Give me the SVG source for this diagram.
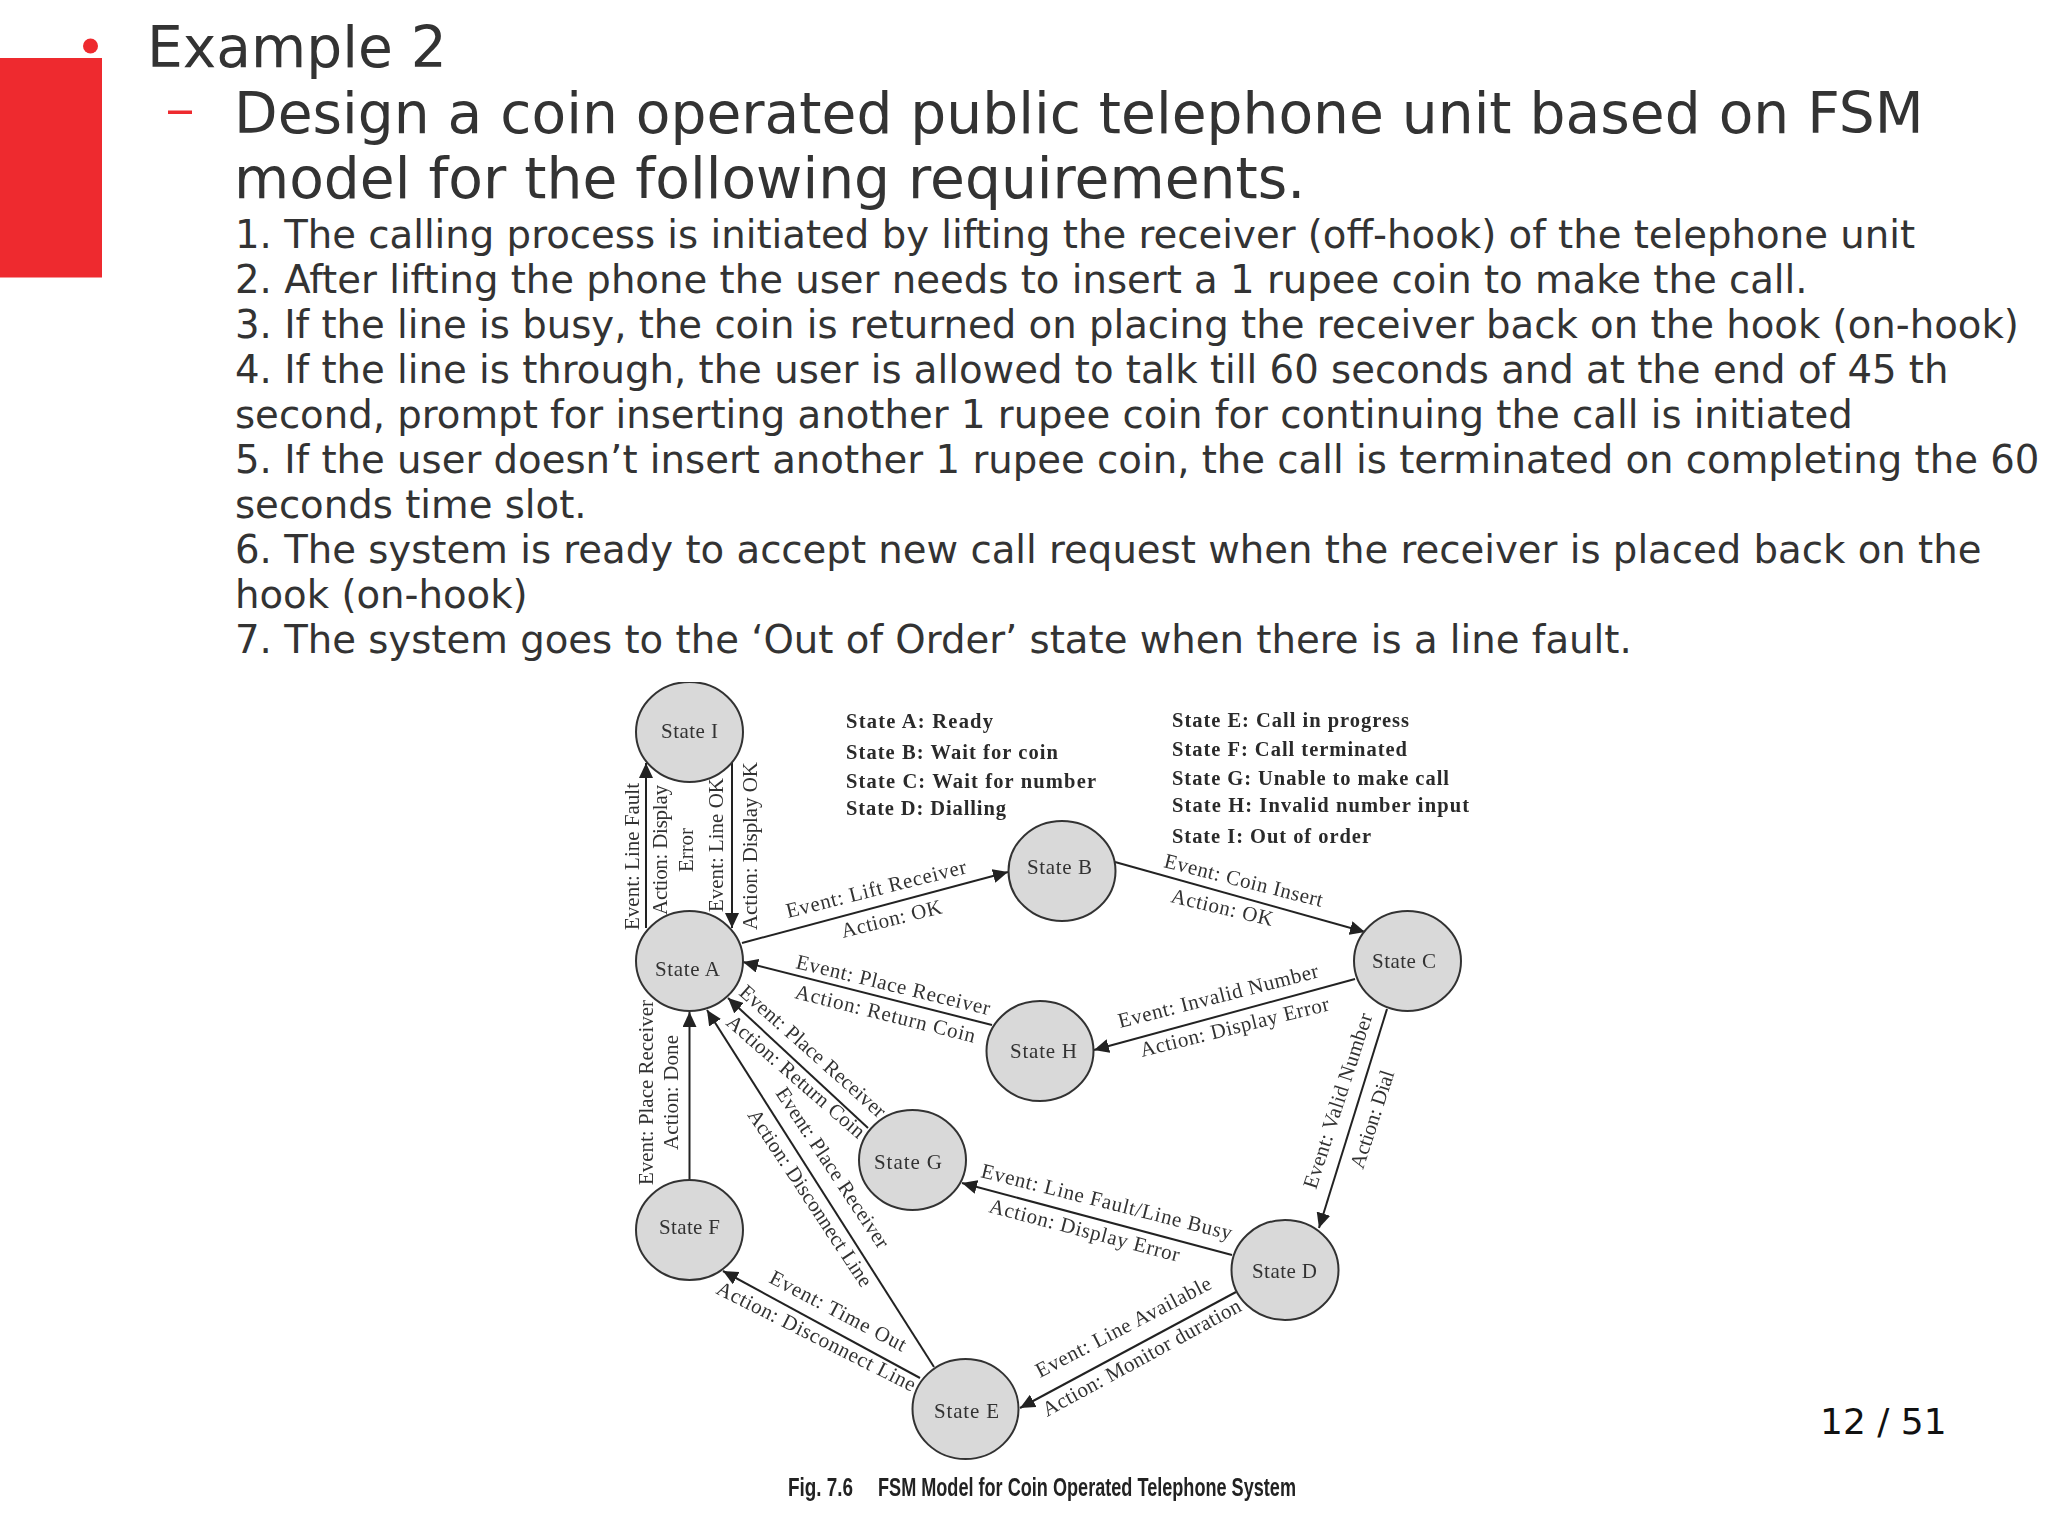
<svg xmlns="http://www.w3.org/2000/svg" width="2048" height="1536" viewBox="0 0 2048 1536">
<defs>
<style>
.h{font-family:"DejaVu Sans",sans-serif;font-size:56.660px;fill:#333}
.b{font-family:"DejaVu Sans",sans-serif;font-size:38.640px;fill:#333}
.pg{font-family:"DejaVu Sans",sans-serif;font-size:36px;fill:#111}
.n{fill:#d9d9d9;stroke:#333;stroke-width:2}
.nt{font-family:"Liberation Serif",serif;font-size:21px;fill:#333}
.e{font-family:"Liberation Serif",serif;font-size:21px;fill:#333}
.lg{font-family:"Liberation Serif",serif;font-size:20.500px;font-weight:bold;fill:#2a2a2a}
.cap{font-family:"Liberation Sans",sans-serif;font-size:25px;font-weight:bold;fill:#222}
.c{stroke:#222;stroke-width:2;fill:none;marker-end:url(#ah)}
</style>
<marker id="ah" markerUnits="userSpaceOnUse" markerWidth="16" markerHeight="14" refX="15" refY="7" orient="auto"><path d="M0 0L15 7L0 14z" fill="#222"/></marker>
<filter id="soft" x="0" y="0" width="100%" height="100%"><feGaussianBlur stdDeviation="0.7"/></filter>
</defs>
<rect width="2048" height="1536" fill="#fff"/>
<g id="slide-text">
<rect x="0" y="58" width="102" height="219.500" fill="#ee2a2f"/>
<circle cx="90.500" cy="46" r="7.500" fill="#ee2a2f"/>
<rect x="168" y="110.500" width="24" height="3.500" fill="#ee2a2f"/>
<text class="h" x="147" y="67">Example 2</text>
<text class="h" x="234" y="133">Design a coin operated public telephone unit based on FSM</text>
<text class="h" x="234" y="198">model for the following requirements.</text>
<text class="b" x="235" y="248">1. The calling process is initiated by lifting the receiver (off-hook) of the telephone unit</text>
<text class="b" x="235" y="293">2. After lifting the phone the user needs to insert a 1 rupee coin to make the call.</text>
<text class="b" x="235" y="338">3. If the line is busy, the coin is returned on placing the receiver back on the hook (on-hook)</text>
<text class="b" x="235" y="383">4. If the line is through, the user is allowed to talk till 60 seconds and at the end of 45 th</text>
<text class="b" x="235" y="428">second, prompt for inserting another 1 rupee coin for continuing the call is initiated</text>
<text class="b" x="235" y="473">5. If the user doesn’t insert another 1 rupee coin, the call is terminated on completing the 60</text>
<text class="b" x="235" y="518">seconds time slot.</text>
<text class="b" x="235" y="563">6. The system is ready to accept new call request when the receiver is placed back on the</text>
<text class="b" x="235" y="608">hook (on-hook)</text>
<text class="b" x="235" y="653">7. The system goes to the ‘Out of Order’ state when there is a line fault.</text>
<text class="pg" x="1820" y="1434">12 / 51</text>
</g>
<g id="figure" filter="url(#soft)">
<g id="connectors">
<path class="c" d="M689.500 1180V1012"/>
<path class="c" d="M646 928V763"/>
<path class="c" d="M732 760V928"/>
<path class="c" d="M742 943L1008 872"/>
<path class="c" d="M992 1025L743 962"/>
<path class="c" d="M1115 862L1365 932"/>
<path class="c" d="M1355 979L1094 1050"/>
<path class="c" d="M1387 1009L1319 1228"/>
<path class="c" d="M1232 1255L962 1183"/>
<path class="c" d="M1236 1292L1020 1408"/>
<path class="c" d="M920 1378L723 1271"/>
<path class="c" d="M934 1367L707 1010"/>
<path class="c" d="M868 1128L728 998"/>
</g>
<g id="edge-labels">
<text class="e" transform="translate(639 930) rotate(-90)" textLength="147">Event: Line Fault</text>
<text class="e" transform="translate(667 915) rotate(-90)" textLength="130">Action: Display</text>
<text class="e" transform="translate(693 872) rotate(-90)" textLength="44">Error</text>
<text class="e" transform="translate(723 912) rotate(-90)" textLength="134">Event: Line OK</text>
<text class="e" transform="translate(757 930) rotate(-90)" textLength="168">Action: Display OK</text>
<text class="e" transform="translate(788 918) rotate(-14.100)" textLength="185">Event: Lift Receiver</text>
<text class="e" transform="translate(843 938) rotate(-14)" textLength="103">Action: OK</text>
<text class="e" transform="translate(795 968) rotate(13.700)" textLength="199">Event: Place Receiver</text>
<text class="e" transform="translate(794 998) rotate(14)" textLength="185">Action: Return Coin</text>
<text class="e" transform="translate(1163 867) rotate(14.200)" textLength="163">Event: Coin Insert</text>
<text class="e" transform="translate(1170 902) rotate(13.400)" textLength="104">Action: OK</text>
<text class="e" transform="translate(1120 1028) rotate(-14.300)" textLength="206">Event: Invalid Number</text>
<text class="e" transform="translate(1142 1057) rotate(-14)" textLength="194">Action: Display Error</text>
<text class="e" transform="translate(1316 1190) rotate(-72)" textLength="183">Event: Valid Number</text>
<text class="e" transform="translate(1363 1170) rotate(-72)" textLength="102">Action: Dial</text>
<text class="e" transform="translate(980 1177) rotate(14.100)" textLength="258">Event: Line Fault/Line Busy</text>
<text class="e" transform="translate(988 1212) rotate(14.700)" textLength="196">Action: Display Error</text>
<text class="e" transform="translate(1040 1378) rotate(-27.500)" textLength="195">Event: Line Available</text>
<text class="e" transform="translate(1047 1417) rotate(-28.600)" textLength="223">Action: Monitor duration</text>
<text class="e" transform="translate(768 1282) rotate(27.600)" textLength="151">Event: Time Out</text>
<text class="e" transform="translate(715 1293) rotate(26.700)" textLength="220">Action: Disconnect Line</text>
<text class="e" transform="translate(738 994) rotate(41.600)" textLength="188">Event: Place Receiver</text>
<text class="e" transform="translate(725 1024) rotate(41)" textLength="176">Action: Return Coin</text>
<text class="e" transform="translate(775 1093) rotate(56.500)" textLength="188">Event: Place Receiver</text>
<text class="e" transform="translate(747 1115) rotate(56.500)" textLength="208">Action: Disconnect Line</text>
<text class="e" transform="translate(653 1185) rotate(-90)" textLength="185">Event: Place Receiver</text>
<text class="e" transform="translate(678 1150) rotate(-90)" textLength="115">Action: Done</text>
</g>
<g id="node-i"><ellipse class="n" cx="689.500" cy="732" rx="53.500" ry="50"/><text class="nt" x="661" y="738" textLength="57">State I</text></g>
<g id="node-a"><ellipse class="n" cx="689.500" cy="961" rx="53.500" ry="50"/><text class="nt" x="655" y="976" textLength="65">State A</text></g>
<g id="node-b"><ellipse class="n" cx="1062" cy="871" rx="53.500" ry="50"/><text class="nt" x="1027" y="874" textLength="65">State B</text></g>
<g id="node-c"><ellipse class="n" cx="1407.500" cy="961" rx="53.500" ry="50"/><text class="nt" x="1372" y="968" textLength="64">State C</text></g>
<g id="node-d"><ellipse class="n" cx="1285" cy="1270" rx="53.500" ry="50"/><text class="nt" x="1252" y="1278" textLength="65">State D</text></g>
<g id="node-e"><ellipse class="n" cx="965.500" cy="1409" rx="53" ry="50"/><text class="nt" x="934" y="1418" textLength="65">State E</text></g>
<g id="node-f"><ellipse class="n" cx="689.500" cy="1230" rx="53.500" ry="50"/><text class="nt" x="659" y="1234" textLength="61">State F</text></g>
<g id="node-g"><ellipse class="n" cx="912.500" cy="1160" rx="53.500" ry="50"/><text class="nt" x="874" y="1169" textLength="68">State G</text></g>
<g id="node-h"><ellipse class="n" cx="1040" cy="1051" rx="53.500" ry="50"/><text class="nt" x="1010" y="1058" textLength="67">State H</text></g>
<g id="legend">
<text class="lg" x="846" y="728" textLength="147">State A: Ready</text>
<text class="lg" x="846" y="759" textLength="212">State B: Wait for coin</text>
<text class="lg" x="846" y="788" textLength="250">State C: Wait for number</text>
<text class="lg" x="846" y="815" textLength="160">State D: Dialling</text>
<text class="lg" x="1172" y="727" textLength="237">State E: Call in progress</text>
<text class="lg" x="1172" y="756" textLength="235">State F: Call terminated</text>
<text class="lg" x="1172" y="785" textLength="277">State G: Unable to make call</text>
<text class="lg" x="1172" y="812" textLength="297">State H: Invalid number input</text>
<text class="lg" x="1172" y="843" textLength="199">State I: Out of order</text>
</g>
<text class="cap" x="788" y="1496" textLength="65" lengthAdjust="spacingAndGlyphs">Fig. 7.6</text>
<text class="cap" x="878" y="1496" textLength="418" lengthAdjust="spacingAndGlyphs">FSM Model for Coin Operated Telephone System</text>
</g>
</svg>
